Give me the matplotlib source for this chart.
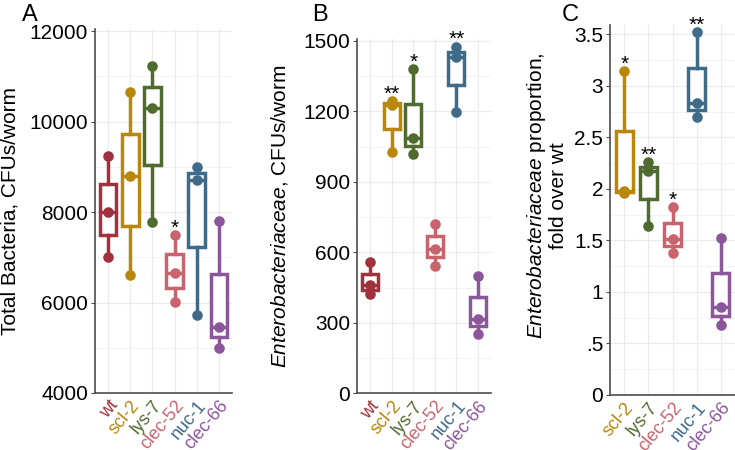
import matplotlib
matplotlib.use("Agg")
import matplotlib.pyplot as plt
from matplotlib.ticker import MultipleLocator, FixedLocator

plt.rcParams['font.family'] = ['Liberation Sans', 'DejaVu Sans']
plt.rcParams['mathtext.fontset'] = 'custom'
plt.rcParams['mathtext.it'] = 'Liberation Sans:italic'
plt.rcParams['mathtext.rm'] = 'Liberation Sans'

# strains and colours
strains = ["wt", "scl-2", "lys-7", "clec-52", "nuc-1", "clec-66"]
strain_colors = ["#a1323d", "#b8870b", "#506b2f", "#c9646f", "#3f6a88", "#8b579a"]

# (A) total bacteria, CFUs/worm
total_bacteria = [
    [7000, 8000, 9250],
    [6600, 8800, 10650],
    [7780, 10310, 11230],
    [6010, 6650, 7490],
    [5720, 8720, 9000],
    [5000, 5470, 7800],
]
total_stars = ["", "", "", "*", "", ""]

# (B) Enterobacteriaceae, CFUs/worm
entero_cfu = [
    [422, 460, 558],
    [1025, 1225, 1245],
    [1020, 1085, 1378],
    [544, 615, 720],
    [1198, 1430, 1475],
    [254, 318, 498],
]
entero_stars = ["", "**", "*", "", "**", ""]

# (C) Enterobacteriaceae proportion, fold over wt (no wt group)
fold_strains = strains[1:]
fold_colors = strain_colors[1:]
entero_fold = [
    [1.96, 1.98, 3.14],
    [1.64, 2.17, 2.26],
    [1.38, 1.51, 1.82],
    [2.70, 2.83, 3.52],
    [0.68, 0.855, 1.52],
]
fold_stars = ["*", "**", "*", "**", ""]


def draw_panel(ax, data, names, colors, stars, ylim, major, minor):
    pos = list(range(len(data)))
    bp = ax.boxplot(data, positions=pos, widths=0.74, whis=(0, 100),
                    patch_artist=True, showcaps=False, showfliers=False,
                    zorder=3)
    for i, c in enumerate(colors):
        bp["boxes"][i].set(facecolor="white", edgecolor=c, linewidth=2.5)
        bp["medians"][i].set(color=c, linewidth=2.5)
        for w in bp["whiskers"][2 * i:2 * i + 2]:
            w.set(color=c, linewidth=2.5)
        ax.scatter([pos[i]] * len(data[i]), data[i], s=58, color=c,
                   zorder=4, linewidths=0)
        if stars[i]:
            ax.annotate(stars[i], (pos[i], max(data[i])), xytext=(0, 1),
                        textcoords="offset points", ha="center", va="baseline",
                        fontsize=15, annotation_clip=False)
    ax.set_xlim(-0.6, len(data) - 0.4)
    ax.set_ylim(*ylim)
    ax.yaxis.set_major_locator(MultipleLocator(major))
    ax.yaxis.set_minor_locator(MultipleLocator(minor))
    ax.set_xticks(pos)
    ax.set_xticklabels(names, rotation=50, ha="right", va="top",
                       rotation_mode="anchor", fontsize=13)
    for lab, c in zip(ax.get_xticklabels(), colors):
        lab.set_color(c)
    ax.grid(True, which="major", color="#ebebeb", lw=0.9, zorder=0)
    ax.grid(True, which="minor", axis="y", color="#f3f3f3", lw=0.7, zorder=0)
    ax.set_axisbelow(True)
    for s in ["top", "right"]:
        ax.spines[s].set_visible(False)
    for s in ["left", "bottom"]:
        ax.spines[s].set_color("#4d4d4d")
        ax.spines[s].set_linewidth(1.2)
    ax.tick_params(axis="y", which="major", labelsize=15, length=3,
                   color="#4d4d4d", pad=2)
    ax.tick_params(axis="y", which="minor", length=0)
    ax.tick_params(axis="x", length=0, pad=3)


fig = plt.figure(figsize=(7.35, 4.5), dpi=100)

ax_a = fig.add_axes([95 / 735, 1 - 393 / 450, 137 / 735, 364 / 450])
draw_panel(ax_a, total_bacteria, strains, strain_colors, total_stars,
           (4000, 12050), 2000, 1000)
ax_a.set_ylabel("Total Bacteria, CFUs/worm", fontsize=15)
ax_a.yaxis.set_label_coords(-0.55, 0.5)

ax_b = fig.add_axes([357 / 735, 1 - 393.4 / 450, 134 / 735, 354 / 450])
draw_panel(ax_b, entero_cfu, strains, strain_colors, entero_stars,
           (0, 1506), 300, 150)
ax_b.set_ylabel(r"$\mathit{Enterobacteriaceae}$, CFUs/worm", fontsize=15)
ax_b.yaxis.set_label_coords(-0.5, 0.5)

ax_c = fig.add_axes([610 / 735, 1 - 395 / 450, 125 / 735, 370 / 450])
draw_panel(ax_c, entero_fold, fold_strains, fold_colors, fold_stars,
           (0, 3.59), 0.5, 0.25)
ax_c.yaxis.set_major_locator(FixedLocator([0, 0.5, 1, 1.5, 2, 2.5, 3, 3.5]))
ax_c.set_yticklabels(["0", ".5", "1", "1.5", "2", "2.5", "3", "3.5"])
ax_c.set_ylabel(r"$\mathit{Enterobacteriaceae}$ proportion," + "\nfold over wt",
                fontsize=15, linespacing=1.0)
ax_c.yaxis.set_label_coords(-0.34, 0.54)

fig.text(22 / 735, 1 - 4 / 450, "A", fontsize=17, va="top", ha="left")
fig.text(312 / 735, 1 - 4 / 450, "B", fontsize=17, va="top", ha="left")
fig.text(562 / 735, 1 - 4 / 450, "C", fontsize=17, va="top", ha="left")

fig.savefig("out.png", dpi=100)
